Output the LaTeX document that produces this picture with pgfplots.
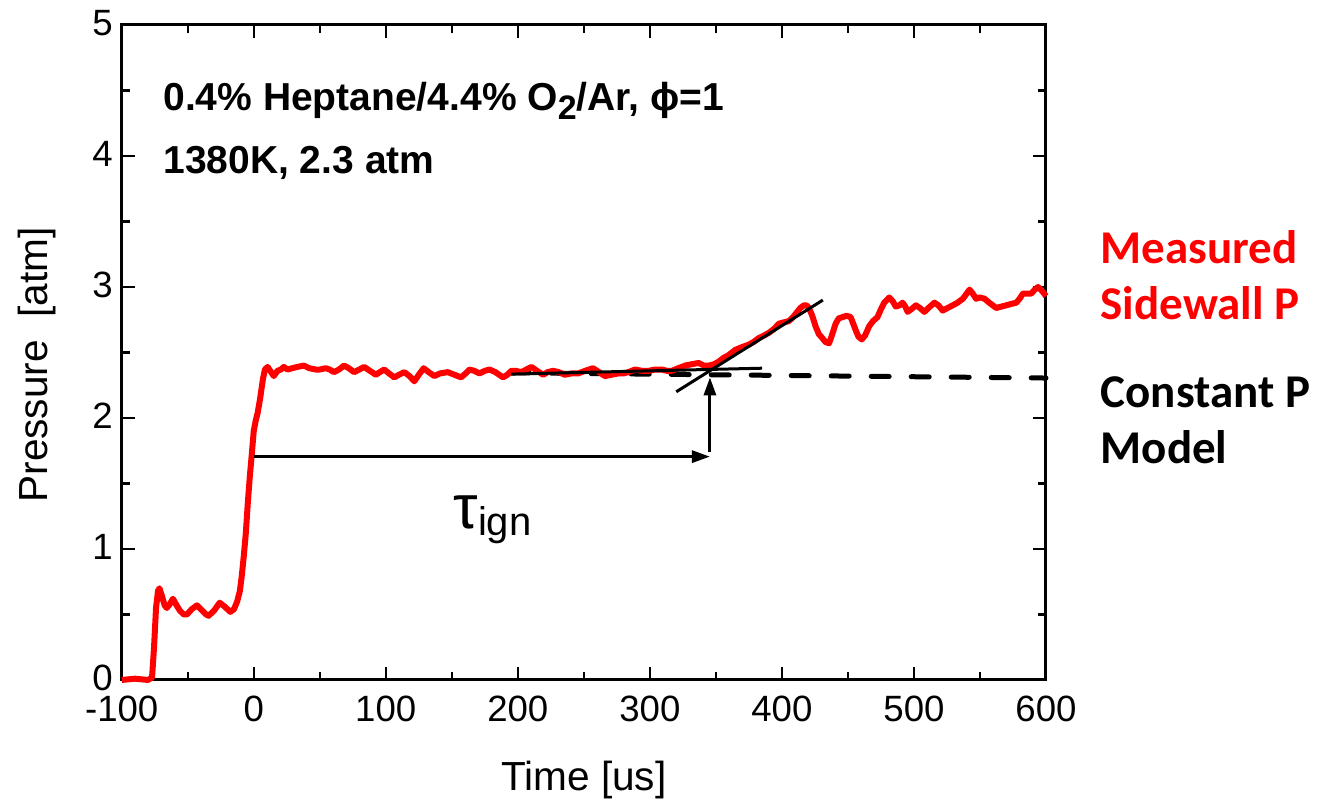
\documentclass[border=0pt]{standalone}
\usepackage{fontspec}
\setmainfont{Liberation Sans}
\newfontfamily\calibri{Carlito}
\usepackage{pgfplots}
\pgfplotsset{compat=1.18}
\usetikzlibrary{arrows.meta}
\pgfplotstableread{
x y
-100 0
-90 0.01
-80 0.0
-77 0.02
-75.5 0.25
-74 0.55
-72.5 0.68
-71.4 0.70
-69.5 0.64
-67.5 0.57
-65.8 0.55
-63.5 0.58
-61.2 0.62
-59 0.58
-56 0.53
-53 0.50
-50.6 0.50
-47 0.54
-43 0.57
-39 0.53
-36 0.50
-34.2 0.49
-30 0.53
-25.8 0.59
-22 0.56
-17.7 0.52
-15 0.54
-12.5 0.60
-10.5 0.68
-9 0.80
-7.5 0.95
-6 1.12
-4.5 1.35
-3 1.55
-1.5 1.72
0 1.90
1.5 1.98
3 2.04
5 2.16
7 2.30
8.5 2.37
10.5 2.39
12.5 2.36
15.2 2.32
18 2.36
20.5 2.37
22.8 2.39
25.5 2.37
29.2 2.38
33 2.39
38 2.40
42 2.38
46.9 2.37
50 2.37
54.5 2.38
57.5 2.37
60.8 2.35
64.5 2.37
68.4 2.40
72 2.38
76 2.35
80 2.37
83.6 2.39
88 2.36
92.5 2.33
95.5 2.35
98.8 2.37
102.5 2.34
106.4 2.31
110 2.33
114 2.35
118 2.32
121.6 2.28
125 2.33
128.7 2.38
132.5 2.35
136.8 2.32
141 2.34
147 2.35
152 2.33
157 2.31
160.5 2.34
163.4 2.37
167 2.36
171 2.34
175 2.36
178.6 2.37
183 2.35
188.8 2.31
192 2.33
195 2.36
198.5 2.36
202.7 2.35
206.5 2.37
210.3 2.39
214.5 2.36
219.2 2.33
222.5 2.35
226.7 2.36
231 2.35
235.6 2.33
240.5 2.34
245.7 2.34
251 2.36
257 2.38
261.5 2.35
266 2.32
271 2.33
276 2.34
280 2.34
283.7 2.35
288.8 2.37
294 2.36
299 2.36
304 2.37
309 2.37
313 2.36
316.6 2.36
321.5 2.38
326.7 2.40
331.5 2.41
336.9 2.42
341 2.40
344.5 2.40
348.5 2.41
352.1 2.43
356 2.46
359.7 2.48
364.7 2.52
369.5 2.54
374.9 2.56
378.5 2.58
382.5 2.61
386.5 2.63
390.1 2.65
394 2.68
397.7 2.72
401.5 2.73
405.3 2.74
408.5 2.77
411.6 2.81
414 2.84
416.7 2.86
418.5 2.86
420.5 2.84
423 2.78
425.5 2.70
428 2.64
430.6 2.61
433 2.58
435.7 2.57
437.5 2.62
440.7 2.72
443 2.76
445.8 2.77
449 2.78
452.1 2.77
454 2.72
455.9 2.67
458 2.62
460.5 2.60
463 2.63
466.1 2.70
469 2.74
472.4 2.77
475 2.83
477.5 2.88
481.3 2.92
484 2.89
486.3 2.85
489 2.86
491.4 2.88
493.5 2.85
495.2 2.81
498 2.83
501.5 2.86
504.5 2.84
507.9 2.81
511 2.84
515.5 2.88
518.5 2.86
521.8 2.82
525.5 2.84
529.4 2.86
533 2.88
537 2.91
540 2.95
542.1 2.98
544.5 2.95
547.1 2.91
550 2.92
553.5 2.91
557 2.88
562.3 2.84
566 2.85
569.9 2.86
573.5 2.87
577.5 2.88
580 2.91
582.6 2.95
586 2.95
588.9 2.95
591.5 2.98
594 3.00
596 2.98
597.8 2.96
600 2.93
}\measured
\begin{document}
\begin{tikzpicture}
\begin{axis}[
  name=ax,
  width=462.15pt, height=327.5pt, scale only axis,
  xmin=-100, xmax=600, ymin=0, ymax=5,
  xtick={-100,0,100,200,300,400,500,600},
  xticklabels={-100,0,100,200,300,400,500,600},
  ytick={0,1,2,3,4,5},
  yticklabels={0,1,2,3,4,5},
  minor x tick num=1, minor y tick num=1,
  tick align=inside,
  major tick length=6.5pt, minor tick length=4pt,
  every tick/.style={black, line width=1.2pt},
  axis line style={line width=1.5pt},
  tick label style={font=\fontsize{18.3}{18.3}\selectfont},
  xticklabel style={yshift=-4.5pt},
  yticklabel style={xshift=-1pt, yshift=1pt},
  xlabel={Time [us]},
  ylabel={Pressure\ \ [atm]},
  label style={font=\fontsize{20.3}{20.3}\selectfont},
  xlabel style={at={(axis description cs:0.5,-0.168)}, anchor=base},
  ylabel style={at={(axis description cs:-0.0916,0.481)}, anchor=center},
  clip=false,
]
\addplot[black, line width=2.5pt, dash pattern=on 9pt off 11pt, line cap=round] coordinates {(195,2.345) (600,2.305)};
\addplot[red, line width=3pt, line join=round] table[x=x,y=y] {\measured};
\addplot[black, line width=1.5pt] coordinates {(195,2.335) (385,2.38)};
\addplot[black, line width=1.5pt] coordinates {(320,2.20) (431,2.90)};
\addplot[black, line width=1.5pt, -{Triangle[length=9pt,width=6pt]}] coordinates {(0,1.705) (345.5,1.705)};
\addplot[black, line width=1.5pt, -{Triangle[length=9pt,width=6pt]}] coordinates {(345.5,1.74) (345.5,2.31)};
\node[anchor=base west, inner sep=0pt, font=\bfseries\fontsize{19.5}{19.5}\selectfont] at (axis cs:-68.7,4.35) {0.4\% Heptane/4.4\% O\raisebox{-0.25em}{\fontsize{17}{17}\selectfont 2}/Ar, ϕ=1};
\node[anchor=base west, inner sep=0pt, font=\bfseries\fontsize{19.5}{19.5}\selectfont] at (axis cs:-68.7,3.87) {1380K, 2.3 atm};
\node[anchor=base west, inner sep=0pt] at (axis cs:151,1.16) {{\fontsize{31}{31}\selectfont τ}\raisebox{-0.35em}{\fontsize{20}{20}\selectfont ign}};
\node[anchor=base west, inner sep=0pt, text=red, font=\calibri\bfseries\fontsize{23.5}{23.5}\selectfont] at (axis cs:641.1,3.18) {Measured};
\node[anchor=base west, inner sep=0pt, text=red, font=\calibri\bfseries\fontsize{23.5}{23.5}\selectfont] at (axis cs:641.1,2.75) {Sidewall P};
\node[anchor=base west, inner sep=0pt, font=\calibri\bfseries\fontsize{23.5}{23.5}\selectfont] at (axis cs:641.1,2.08) {Constant P};
\node[anchor=base west, inner sep=0pt, font=\calibri\bfseries\fontsize{23.5}{23.5}\selectfont] at (axis cs:641.1,1.65) {Model};
\end{axis}
\pgfresetboundingbox
\path[use as bounding box] (ax.south west) ++(-60.85pt,-60.5pt) rectangle ++(659.5pt,400.5pt);
\end{tikzpicture}
\end{document}
